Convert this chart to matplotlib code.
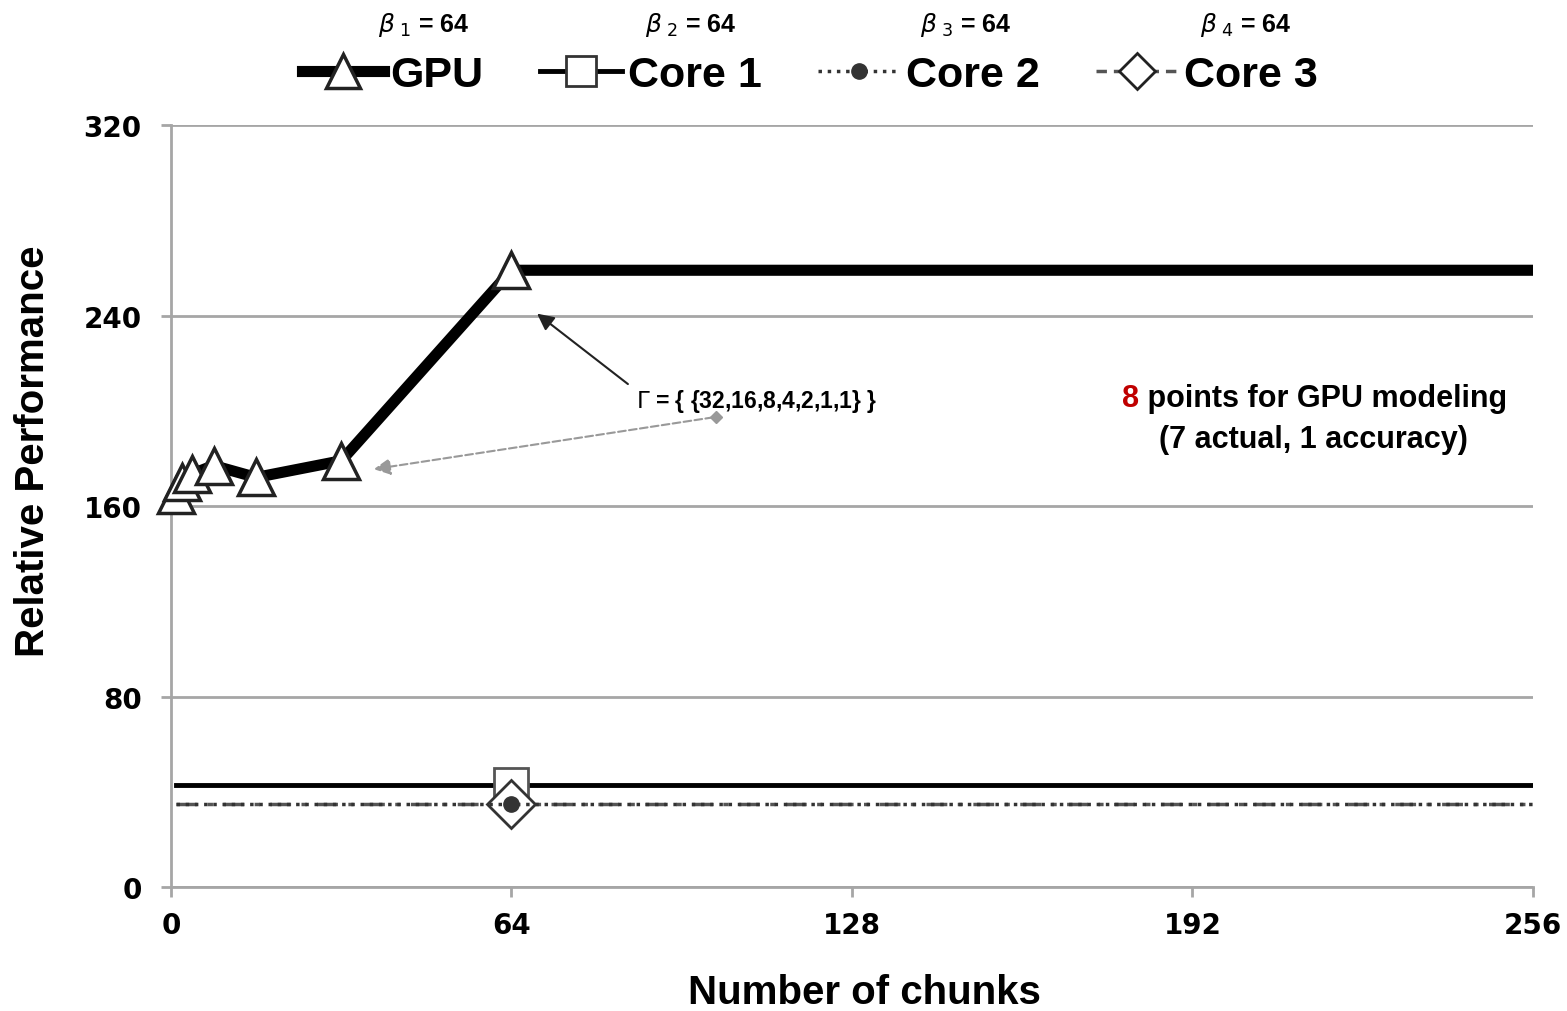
import numpy as np
import matplotlib.pyplot as plt
from matplotlib.lines import Line2D

# chunk counts and measured relative performance
gpu_chunks = [1, 2, 4, 8, 16, 32, 64, 256]
gpu_perf = [164.5, 170, 173.5, 177, 172, 179, 259, 259]

core_chunks = [1, 64, 256]
core1_perf = [42.8, 42.8, 42.8]
core2_perf = [35, 35, 35]
core3_perf = [35, 35, 35]

x_ticks = [0, 64, 128, 192, 256]
y_ticks = [0, 80, 160, 240, 320]
legend_names = ['GPU', 'Core 1', 'Core 2', 'Core 3']
beta_labels = [r'$\beta_{\ 1}$ = 64', r'$\beta_{\ 2}$ = 64',
               r'$\beta_{\ 3}$ = 64', r'$\beta_{\ 4}$ = 64']
gamma_text = r'$\Gamma$ = { {32,16,8,4,2,1,1} }'

narrow = ['Liberation Sans', 'DejaVu Sans']
wide = ['DejaVu Sans']

fig = plt.figure(figsize=(15.67, 10.12), dpi=100)
ax = fig.add_axes([0.1091, 0.1225, 0.8692, 0.753])

grid = '#a6a6a6'
ax.set_xlim(0, 256)
ax.set_ylim(0, 320)
ax.set_xticks(x_ticks)
ax.set_yticks(y_ticks)
ax.yaxis.grid(True, color=grid, lw=2)
ax.set_axisbelow(True)
for s in ['top', 'right']:
    ax.spines[s].set_visible(False)
for s in ['left', 'bottom']:
    ax.spines[s].set_color(grid)
    ax.spines[s].set_linewidth(2)
ax.tick_params(axis='both', colors=grid, width=2, length=7, direction='out')
ax.tick_params(axis='x', pad=10)
ax.tick_params(axis='y', pad=14)
for lab in ax.get_xticklabels() + ax.get_yticklabels():
    lab.set_color('black')
    lab.set_fontweight('bold')
    lab.set_fontsize(20)
    lab.set_family(wide)

ax.set_xlabel('Number of chunks', fontsize=29, fontweight='bold', family=narrow,
              va='center')
ax.set_ylabel('Relative Performance', fontsize=29, fontweight='bold', family=narrow,
              va='center')
ax.xaxis.set_label_coords(0.509, -0.138)
ax.yaxis.set_label_coords(-0.101, 0.573)

# core lines (markers only at 64)
ax.plot(core_chunks, core1_perf, color='black', lw=3.5, marker='s', ms=25,
        mfc='white', mec='#555555', mew=2, markevery=[1], zorder=3)
ax.plot(core_chunks, core3_perf, color='#555555', lw=2.5, ls=(0, (6, 3, 1.5, 3)),
        marker='D', ms=24, mfc='white', mec='#333333', mew=2, markevery=[1], zorder=4)
ax.plot(core_chunks, core2_perf, color='#333333', lw=2.5, ls=':',
        marker='o', ms=11, mfc='#333333', mec='#333333', markevery=[1], zorder=5)

# GPU line, markers on the measured points only
ax.plot(gpu_chunks, gpu_perf, color='black', lw=8, solid_joinstyle='miter', zorder=6)
ax.plot(gpu_chunks[:7], gpu_perf[:7], ls='none', marker='^', ms=26,
        mfc='white', mec='#222222', mew=2.5, zorder=7, clip_on=False)

# annotations
ax.annotate('', xy=(68.4, 241.5), xytext=(86.3, 210.5),
            arrowprops=dict(arrowstyle='-|>', color='#222222', lw=1.5,
                            mutation_scale=25), zorder=8)
ax.annotate('', xy=(37.6, 175.3), xytext=(102.4, 197.4),
            arrowprops=dict(arrowstyle='-|>', color='#999999', lw=1.5, ls='--',
                            mutation_scale=25), zorder=8)
ax.plot([102.4], [197.4], marker='D', ms=6, color='#999999', zorder=8)
ax.text(87.5, 204.5, gamma_text, fontsize=16.5, fontweight='bold', family=narrow,
        ha='left', va='center')

t8 = ax.text(178.8, 205.4, '8', fontsize=22, fontweight='bold', family=narrow,
             color='#c00000', ha='left', va='center')
ax.annotate(' points for GPU modeling', xy=(1, 0.5), xycoords=t8,
            fontsize=22, fontweight='bold', family=narrow, ha='left', va='center')
ax.text(214.8, 188.2, '(7 actual, 1 accuracy)', fontsize=22, fontweight='bold',
        family=narrow, ha='center', va='center')

# legend along the top
handles = [
    Line2D([], [], color='black', lw=8, marker='^', ms=24, mfc='white',
           mec='#222222', mew=2.5),
    Line2D([], [], color='black', lw=3.5, marker='s', ms=22, mfc='white',
           mec='#333333', mew=2),
    Line2D([], [], color='#333333', lw=2.5, ls=':', marker='o', ms=11,
           mfc='#333333', mec='#333333'),
    Line2D([], [], color='#555555', lw=2.5, ls=(0, (3, 2)), marker='D', ms=18,
           mfc='white', mec='#222222', mew=2),
]
fig.legend(handles, legend_names, loc='center', bbox_to_anchor=(0.517, 0.925),
           ncol=4, frameon=False, handlelength=1.9, handletextpad=0.15,
           columnspacing=1.3, prop={'size': 31, 'weight': 'bold', 'family': narrow})

for xf, lab in zip([0.2706, 0.441, 0.6165, 0.795], beta_labels):
    fig.text(xf, 0.975, lab, fontsize=18, fontweight='bold', family=narrow,
             ha='center', va='center')

fig.savefig('out.png', dpi=100)
